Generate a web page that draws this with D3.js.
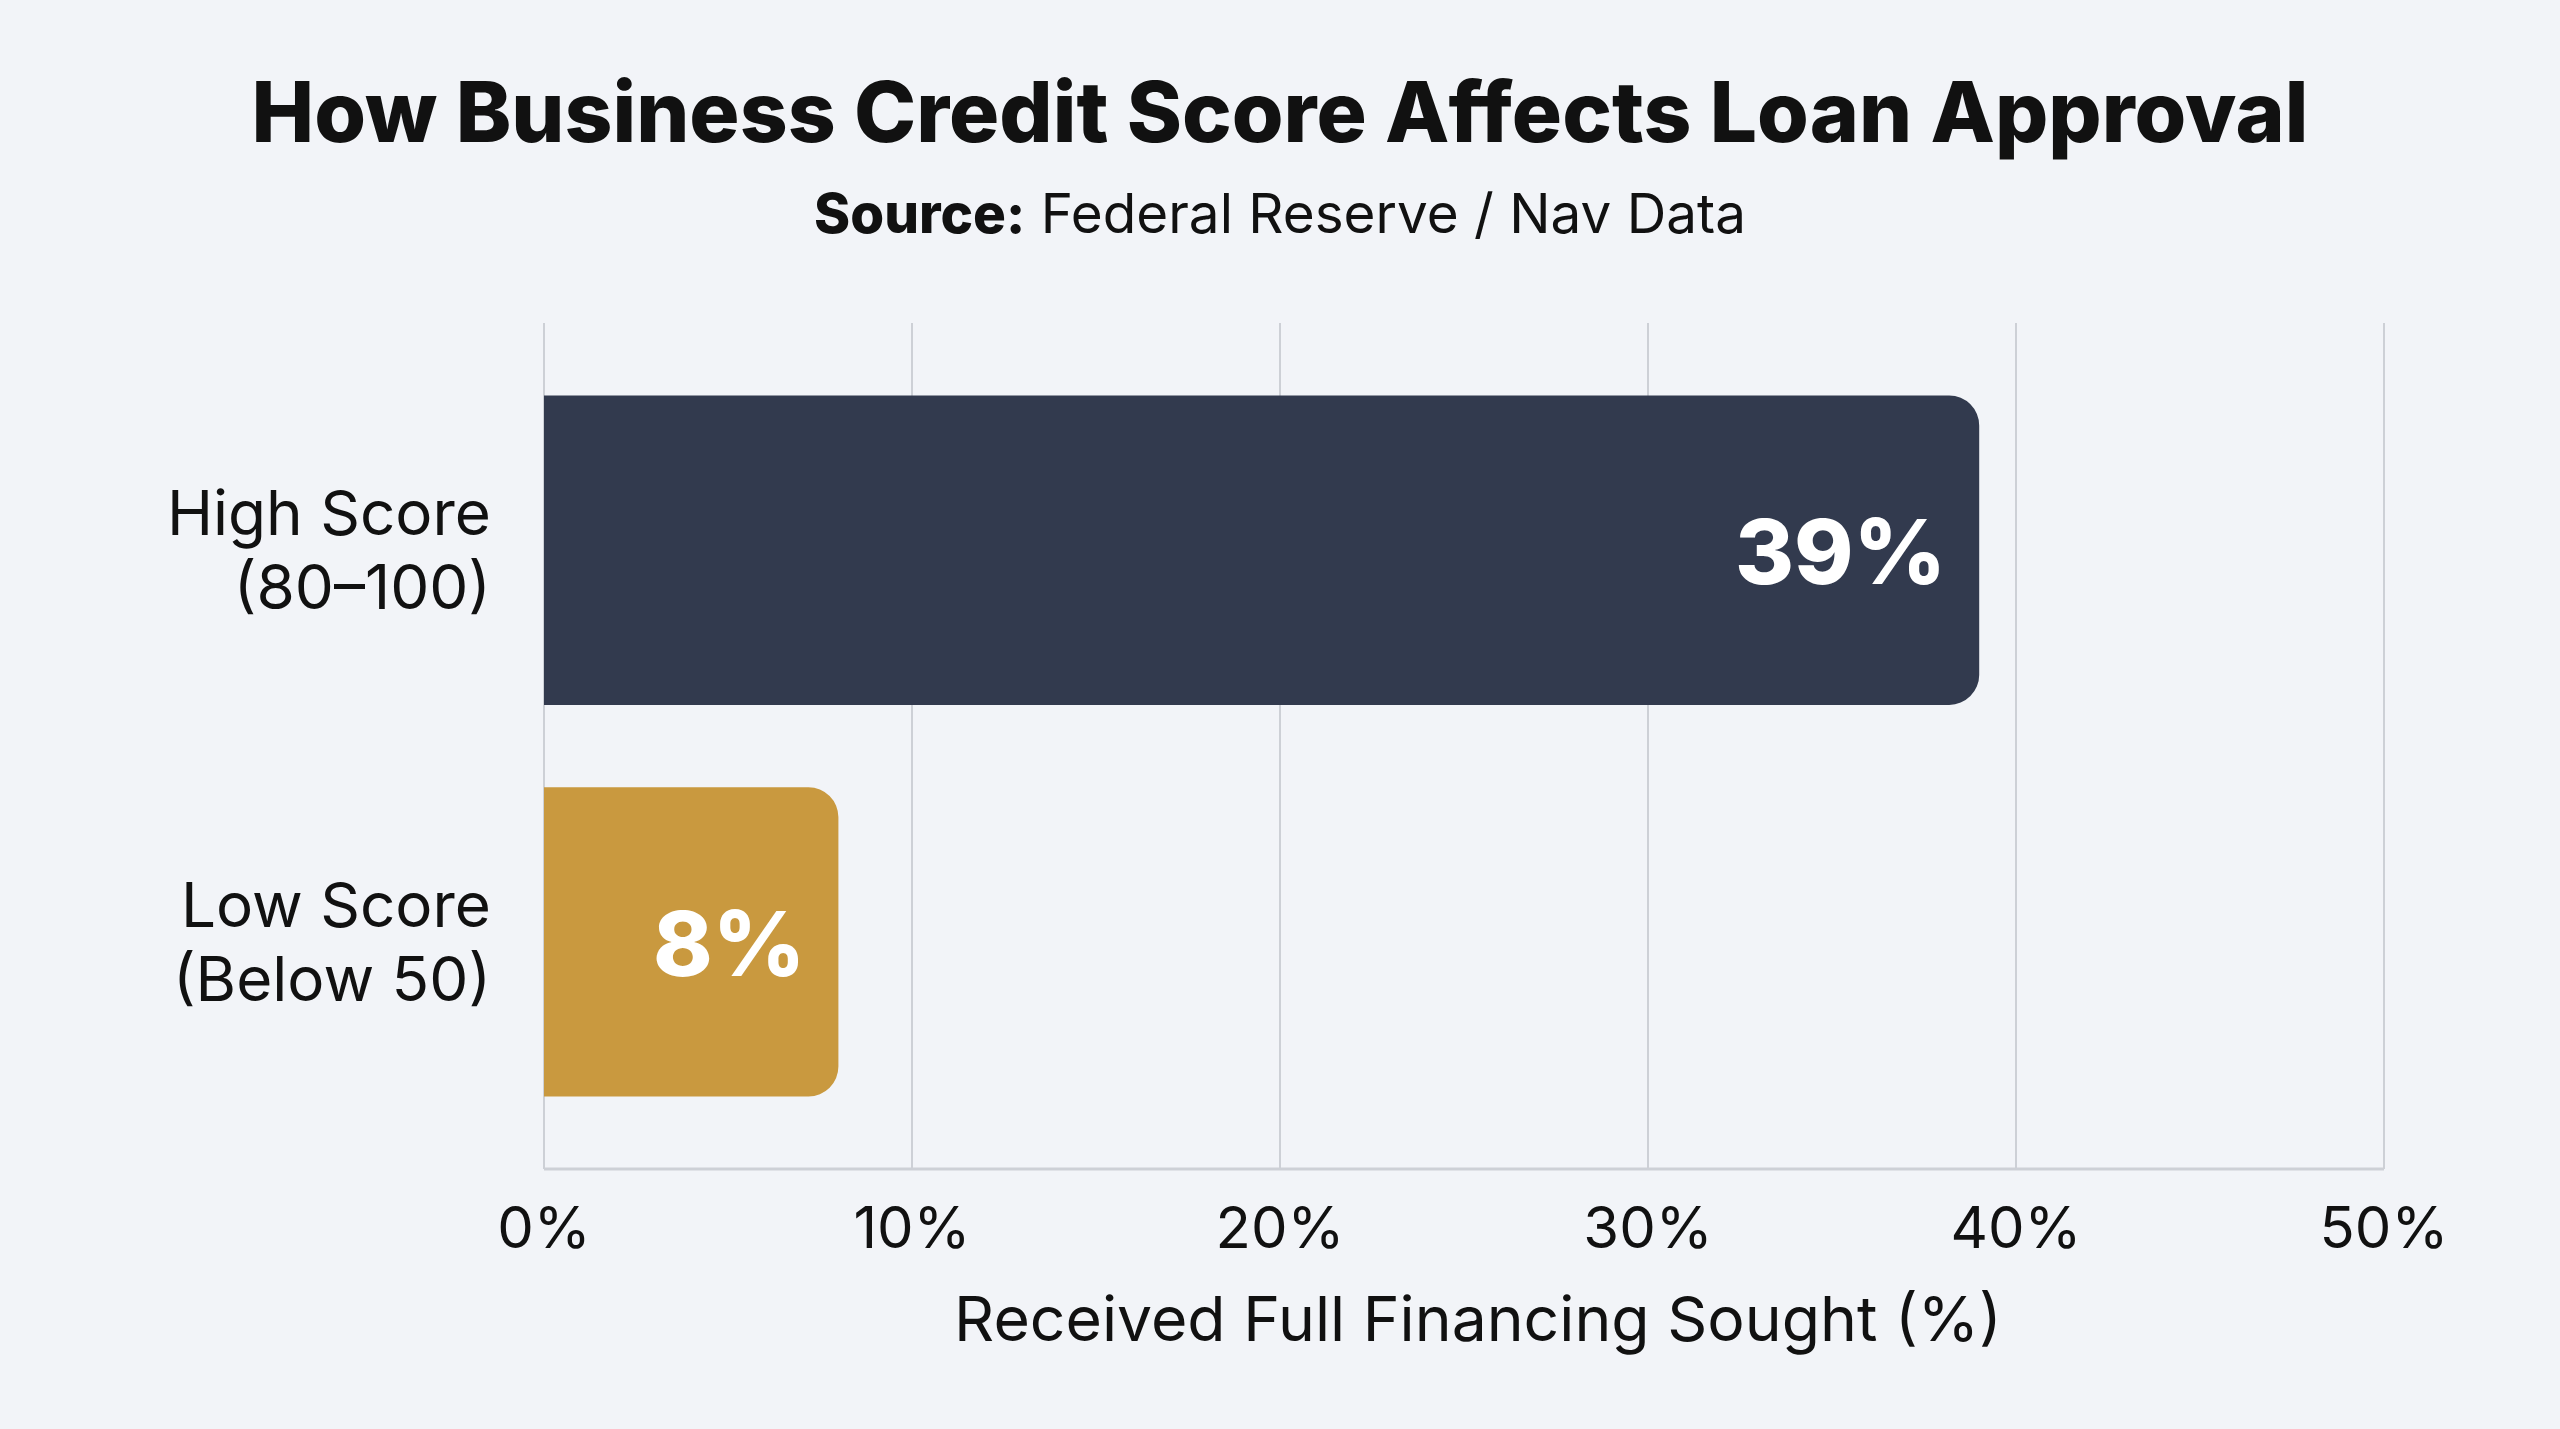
<!DOCTYPE html>
<html>
<head>
<meta charset="utf-8">
<script src="https://cdn.jsdelivr.net/npm/d3@7"></script>
<style>
  html, body { margin: 0; padding: 0; background: #f2f4f8; }
  svg { display: block; }
  text { font-family: Inter, "Noto Sans", sans-serif; fill: #111; }
</style>
</head>
<body>
<svg id="chart" width="2560" height="1429"></svg>
<script>
// ---- data ----
const categories = [["High Score", "(80\u2013100)"], ["Low Score", "(Below 50)"]];
const values = [39, 8];
const barColors = ["#323a4e", "#c9993f"];
const ticks = [0, 10, 20, 30, 40, 50];
const titleText = "How Business Credit Score Affects Loan Approval";
const sourceLabel = "Source:";
const sourceText = " Federal Reserve / Nav Data";
const xAxisTitle = "Received Full Financing Sought (%)";

// ---- layout ----
const W = 2560, H = 1429;
const margin = { left: 544, right: W - 2384, top: 323, bottom: H - 1169 };
const svg = d3.select("#chart");
svg.append("rect").attr("width", W).attr("height", H).attr("fill", "#f2f4f8");

const x = d3.scaleLinear().domain([0, 50]).range([margin.left, W - margin.right]);
const keys = categories.map(c => c.join(" "));
const y = d3.scaleBand().domain(keys).range([margin.top, H - margin.bottom])
  .paddingInner(0.21).paddingOuter(0.185);

function fitWidth(sel, target) {
  const w = sel.node().getComputedTextLength();
  const fs = parseFloat(sel.attr("font-size"));
  sel.attr("font-size", fs * target / w);
}

// title
const title = svg.append("text").attr("x", W / 2).attr("y", 142)
  .attr("text-anchor", "middle").attr("font-size", 80).attr("font-weight", 800)
  .attr("fill", "#0b0b0b").text(titleText);
fitWidth(title, 2057);

// subtitle
const sub = svg.append("text").attr("x", W / 2).attr("y", 233)
  .attr("text-anchor", "middle").attr("font-size", 50);
sub.append("tspan").attr("font-weight", 800).text(sourceLabel);
sub.append("tspan").attr("font-weight", 400).text(sourceText);
fitWidth(sub, 932);

// gridlines
svg.append("g").selectAll("line").data(ticks).join("line")
  .attr("x1", d => x(d)).attr("x2", d => x(d))
  .attr("y1", margin.top).attr("y2", H - margin.bottom)
  .attr("stroke", "#cdd0d6").attr("stroke-width", 2);

// bottom axis line
svg.append("line").attr("x1", x(0)).attr("x2", x(50))
  .attr("y1", H - margin.bottom).attr("y2", H - margin.bottom)
  .attr("stroke", "#cdd0d6").attr("stroke-width", 3);

// bars with rounded right corners
function barPath(x0, y0, w, h, r) {
  r = Math.min(r, w, h / 2);
  return `M${x0},${y0}H${x0 + w - r}A${r},${r} 0 0 1 ${x0 + w},${y0 + r}` +
         `V${y0 + h - r}A${r},${r} 0 0 1 ${x0 + w - r},${y0 + h}H${x0}Z`;
}
const data = keys.map((k, i) => ({ key: k, lines: categories[i], v: values[i], c: barColors[i] }));

svg.append("g").selectAll("path").data(data).join("path")
  .attr("d", d => barPath(x(0), y(d.key), x(d.v) - x(0), y.bandwidth(), 30))
  .attr("fill", d => d.c);

// value labels
svg.append("g").selectAll("text").data(data).join("text")
  .attr("x", d => x(d.v) - 33)
  .attr("y", d => y(d.key) + y.bandwidth() / 2 + 34)
  .attr("text-anchor", "end").attr("font-size", 90).attr("font-weight", 800)
  .style("fill", "#ffffff")
  .text(d => d.v + "%");

// category labels
const cat = svg.append("g").selectAll("text").data(data).join("text")
  .attr("text-anchor", "end").attr("font-size", 62).attr("font-weight", 400);
cat.each(function (d) {
  const t = d3.select(this);
  const cy = y(d.key) + y.bandwidth() / 2;
  d.lines.forEach((ln, j) => {
    t.append("tspan").attr("x", 491).attr("y", cy - 15 + j * 74).text(ln);
  });
});

// x tick labels
svg.append("g").selectAll("text").data(ticks).join("text")
  .attr("x", d => x(d)).attr("y", 1248)
  .attr("text-anchor", "middle").attr("font-size", 58).attr("font-weight", 400)
  .text(d => d + "%");

// x axis title
const xt = svg.append("text").attr("x", 1478).attr("y", 1341)
  .attr("text-anchor", "middle").attr("font-size", 60).attr("font-weight", 400)
  .text(xAxisTitle);
fitWidth(xt, 1048);
</script>
</body>
</html>
